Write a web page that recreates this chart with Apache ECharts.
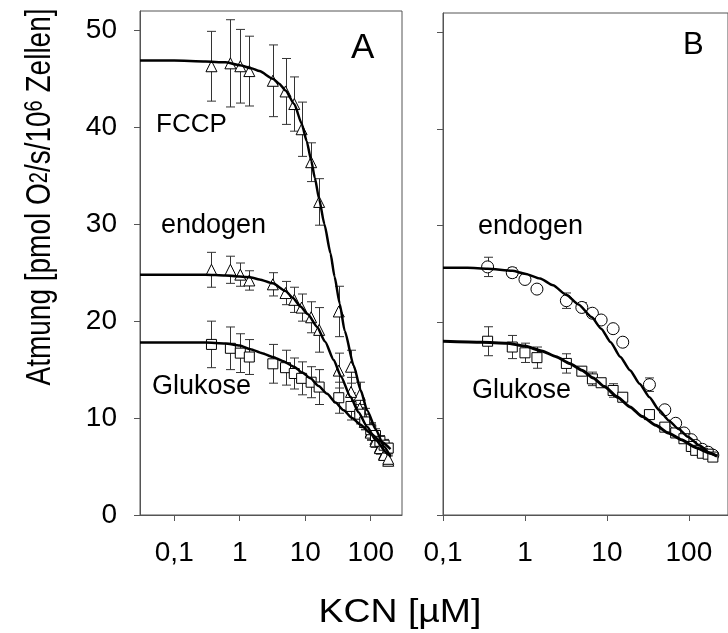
<!DOCTYPE html>
<html><head><meta charset="utf-8">
<script src="https://cdn.jsdelivr.net/npm/echarts@6/dist/echarts.min.js"></script>
<style>html,body{margin:0;padding:0;background:#fff}#c{width:728px;height:633px}</style>
</head><body><div id="c"></div>
<script>
// ---- tick labels ----
const xTickValues = [0.1, 1, 10, 100];
const yTickValues = [0, 10, 20, 30, 40, 50];

// ---- Panel A data (KCN µM) ----
const xA = [0.37, 0.72, 1.02, 1.4, 3.2, 5.0, 6.8, 8.8, 12.3, 16.3, 32.5, 50, 68, 81, 100, 118, 138, 160, 185];
const fccpA    = [46.3, 46.6, 46.3, 45.8, 44.8, 43.7, 42.4, 39.8, 36.4, 32.3, 21.0, 15.3, 12.4, 10.0, 8.6, 7.8, 7.0, 6.3, 5.6];
const fccpAErr = [3.6, 4.5, 3.8, 3.6, 3.7, 3.4, 2.8, 2.8, 2.0, 2.4, 2.6, 1.7, 1.3, 1.0, 0.9, 0.8, 0.7, 0.6, 0.5];
const endoA    = [25.3, 25.3, 24.8, 24.2, 23.8, 22.9, 22.2, 21.4, 20.4, 19.1, 14.9, 12.7, 11.0, 9.6, 8.5, 7.6, 6.9, 6.2, 5.8];
const endoAErr = [1.8, 1.4, 1.2, 1.0, 1.2, 1.2, 1.3, 1.4, 1.6, 2.3, 1.8, 1.5, 1.0, 0.8, 0.7, 0.6, 0.6, 0.5, 0.5];
const gluA     = [17.6, 17.2, 16.7, 16.3, 15.6, 15.2, 14.6, 14.1, 13.7, 13.2, 12.1, 11.2, 10.4, 9.6, 8.8, 8.2, 7.6, 7.2, 6.9];
const gluAErr  = [2.4, 2.2, 2.0, 1.8, 2.0, 1.8, 1.6, 1.7, 1.6, 1.8, 1.6, 1.4, 1.0, 0.8, 0.7, 0.7, 0.6, 0.6, 0.5];

// fitted curves panel A
const fitFccpAX = [0.03, 0.1, 0.3, 0.6, 1, 1.5, 2, 3.2, 4, 5, 6.8, 8.8, 10.5, 12.3, 14, 16.3, 19.6, 24.3, 28, 33.6, 40, 55, 70, 88, 120, 158, 200];
const fitFccpAY = [46.9, 46.9, 46.8, 46.7, 46.4, 46.1, 45.8, 45.0, 44.5, 43.8, 42.4, 40.4, 38.6, 36.6, 34.8, 32.6, 30.0, 27.0, 24.6, 21.8, 19.0, 15.4, 12.9, 10.8, 8.8, 7.1, 6.0];
const fitEndoAX = [0.03, 0.3, 0.6, 1, 1.5, 2, 3.2, 5, 6.5, 8.45, 11, 15.2, 20, 27.2, 35, 49, 65, 88, 120, 177, 200];
const fitEndoAY = [24.8, 24.8, 24.7, 24.6, 24.5, 24.3, 23.9, 23.1, 22.4, 21.5, 20.7, 19.4, 17.9, 16.0, 14.3, 12.2, 10.6, 9.1, 7.7, 6.4, 6.1];
const fitGluAX  = [0.03, 0.3, 0.6, 1, 1.46, 2.2, 3.2, 4.5, 6.7, 9, 12, 16, 21.6, 29, 38.6, 52, 70, 100, 141, 200];
const fitGluAY  = [17.8, 17.8, 17.7, 17.5, 17.1, 16.7, 16.3, 15.9, 15.3, 14.7, 14.1, 13.3, 12.5, 11.6, 10.8, 10.0, 9.3, 8.4, 7.6, 6.8];

// ---- Panel B data ----
const xB = [0.35, 0.70, 1.0, 1.4, 3.2, 4.94, 6.65, 8.5, 11.9, 15.6, 33, 50.8, 69, 87, 107, 121, 146, 172, 196];
const endoB    = [25.7, 25.1, 24.4, 23.4, 22.2, 21.5, 20.9, 20.2, 19.3, 17.9, 13.5, 10.9, 9.5, 8.5, 7.8, 7.2, 6.8, 6.5, 6.2];
const endoBErr = [1.0, 0.5, 0, 0, 0.8, 0.5, 0, 0, 0, 0, 0.7, 0, 0, 0, 0, 0, 0, 0, 0];
const gluB     = [18.0, 17.4, 16.8, 16.3, 15.7, 14.9, 14.1, 13.7, 12.9, 12.2, 10.4, 9.1, 8.5, 7.9, 7.1, 6.7, 6.4, 6.3, 6.0];
const gluBErr  = [1.5, 1.2, 1.0, 1.1, 1.0, 0.4, 0.7, 0.4, 0.7, 0.4, 0, 0, 0, 0, 0, 0, 0, 0, 0];

const fitEndoBX = [0.1, 0.2, 0.35, 0.7, 1.0, 1.53, 2.2, 3.2, 4.5, 6.5, 8.5, 11.1, 14.5, 19.1, 25, 33, 43, 56.6, 75, 97, 135, 182, 220];
const fitEndoBY = [25.6, 25.6, 25.5, 25.3, 25.0, 24.5, 23.8, 22.8, 21.8, 20.5, 19.3, 17.9, 16.4, 15.0, 13.6, 12.2, 10.9, 9.8, 8.9, 8.1, 7.2, 6.4, 6.1];
const fitGluBX  = [0.1, 0.3, 0.6, 1.0, 1.6, 2.4, 3.5, 4.94, 6.8, 9.3, 13.5, 19.1, 27, 39.4, 56, 81, 120, 182, 220];
const fitGluBY  = [18.0, 17.9, 17.8, 17.5, 17.0, 16.4, 15.7, 15.0, 14.2, 13.3, 12.2, 11.2, 10.2, 9.3, 8.5, 7.8, 7.0, 6.4, 6.1];

// ---- helpers ----
const FONT = "'Liberation Sans', Arial, sans-serif";
const AX = '#555';
const pts = (xs, ys) => xs.map((x, i) => [x, ys[i]]);
const bars = (xs, ys, es) => xs.map((x, i) => [x, ys[i] - es[i], ys[i] + es[i], es[i]]).filter(d => d[3] > 0);

function errRender(params, api) {
  const x = api.value(0), lo = api.value(1), hi = api.value(2);
  const p1 = api.coord([x, lo]), p2 = api.coord([x, hi]);
  const w = 4.5, cx = Math.round(p1[0]) + 0.5;
  const st = { stroke: '#333', lineWidth: 1 };
  return { type: 'group', children: [
    { type: 'line', shape: { x1: cx, y1: p1[1], x2: cx, y2: p2[1] }, style: st },
    { type: 'line', shape: { x1: cx - w, y1: p1[1], x2: cx + w, y2: p1[1] }, style: st },
    { type: 'line', shape: { x1: cx - w, y1: p2[1], x2: cx + w, y2: p2[1] }, style: st }
  ]};
}
function errSeries(gi, data) {
  return { type: 'custom', xAxisIndex: gi, yAxisIndex: gi, renderItem: errRender, data: data,
    encode: { x: 0, y: [1, 2] }, z: 1, silent: true };
}
function scat(gi, data, symbol, size) {
  return { type: 'scatter', xAxisIndex: gi, yAxisIndex: gi, data: data, symbol: symbol, symbolSize: size,
    itemStyle: { color: '#fff', borderColor: '#000', borderWidth: 1, opacity: 1 }, z: 2, silent: true };
}
function fit(gi, data, w) {
  return { type: 'line', xAxisIndex: gi, yAxisIndex: gi, data: data, showSymbol: false, symbol: 'none',
    smooth: 0.2, smoothMonotone: 'x', lineStyle: { color: '#000', width: w }, z: 3, silent: true };
}
function xAxisCfg(gi, min) {
  return { type: 'log', logBase: 10, gridIndex: gi, min: min, max: 300,
    axisLine: { show: true, lineStyle: { color: AX, width: 1 } },
    axisTick: { show: true, length: 6, inside: false, customValues: xTickValues, lineStyle: { color: AX } },
    minorTick: { show: false },
    axisLabel: { show: true, customValues: xTickValues, fontSize: 28, fontFamily: FONT, color: '#000', margin: 24,
      formatter: v => (v < 0.5 ? '0,1' : String(Math.round(v))) },
    splitLine: { show: false } };
}
function yAxisCfg(gi, showLabel) {
  return { type: 'value', gridIndex: gi, min: 0, max: 52,
    axisLine: { show: true, lineStyle: { color: AX, width: 1 } },
    axisTick: { show: true, length: 6, inside: false, customValues: yTickValues, lineStyle: { color: AX } },
    axisLabel: { show: showLabel, customValues: yTickValues, fontSize: 28, fontFamily: FONT, color: '#000', margin: 23 },
    splitLine: { show: false } };
}
function label(text, x, y, fs, extra) {
  return Object.assign({ type: 'text', x: x, y: y, silent: true,
    style: { text: text, font: fs + 'px ' + FONT, fill: '#000', align: 'left', verticalAlign: 'middle' } }, extra || {});
}

const chart = echarts.init(document.getElementById('c'), null, { renderer: 'canvas' });
chart.setOption({
  animation: false,
  backgroundColor: '#fff',
  grid: [
    { left: 140, top: 11, width: 262, bottom: 118, show: true, borderColor: AX, borderWidth: 1, backgroundColor: 'transparent', containLabel: false },
    { left: 443, top: 13, width: 295, bottom: 118, show: true, borderColor: AX, borderWidth: 1, backgroundColor: 'transparent', containLabel: false }
  ],
  xAxis: [xAxisCfg(0, 0.03), xAxisCfg(1, 0.1)],
  yAxis: [yAxisCfg(0, true), yAxisCfg(1, false)],
  series: [
    errSeries(0, bars(xA, fccpA, fccpAErr)),
    errSeries(0, bars(xA, endoA, endoAErr)),
    errSeries(0, bars(xA, gluA, gluAErr)),
    scat(0, pts(xA, fccpA), 'triangle', 11),
    scat(0, pts(xA, endoA), 'triangle', 11),
    scat(0, pts(xA, gluA), 'rect', 10),
    fit(0, pts(fitFccpAX, fitFccpAY), 2.5),
    fit(0, pts(fitEndoAX, fitEndoAY), 2.5),
    fit(0, pts(fitGluAX, fitGluAY), 2.5),
    errSeries(1, bars(xB, endoB, endoBErr)),
    errSeries(1, bars(xB, gluB, gluBErr)),
    scat(1, pts(xB, endoB), 'circle', 12),
    scat(1, pts(xB, gluB), 'rect', 10),
    fit(1, pts(fitEndoBX, fitEndoBY), 2.5),
    fit(1, pts(fitGluBX, fitGluBY), 3)
  ],
  graphic: [
    label('A', 351, 48, 35),
    label('B', 683, 45, 31),
    label('FCCP', 156, 125, 26),
    label('endogen', 161, 226, 27),
    label('Glukose', 152, 387, 27),
    label('endogen', 478, 227, 27),
    label('Glukose', 472, 391, 27),
    { type: 'text', x: 400, y: 613, scaleX: 1.1, silent: true,
      style: { text: 'KCN [µM]', font: '34px ' + FONT, fill: '#000', align: 'center', verticalAlign: 'middle' } },
    { type: 'text', x: 40, y: 197, rotation: Math.PI / 2, scaleY: 1.25, silent: true,
      style: { text: 'Atmung [pmol O{sub|2}/s/10{sup|6} Zellen]', font: '28px ' + FONT, fill: '#000',
        align: 'center', verticalAlign: 'middle',
        rich: {
          sub: { fontSize: 20, fontFamily: FONT, fill: '#000', verticalAlign: 'middle' },
          sup: { fontSize: 20, fontFamily: FONT, fill: '#000', verticalAlign: 'top' }
        } } }
  ]
});
</script></body></html>
